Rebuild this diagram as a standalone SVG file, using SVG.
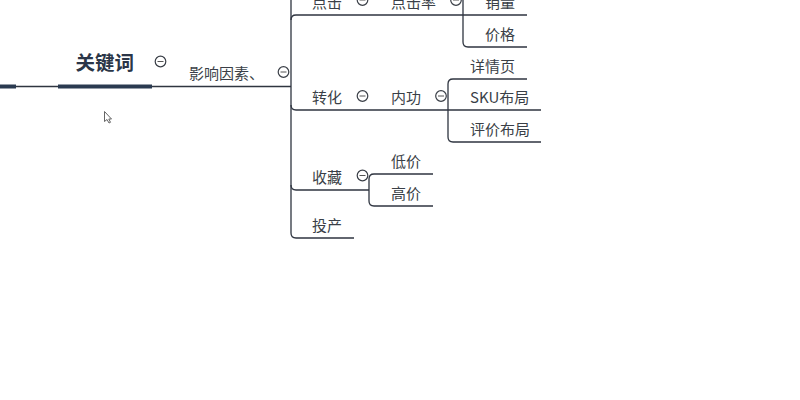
<svg xmlns="http://www.w3.org/2000/svg" width="800" height="400" viewBox="0 0 800 400">
<style>
text{font-family:"Noto Sans CJK SC","Noto Sans",sans-serif;font-size:15px;fill:#3a3f47}
.c{fill:none;stroke:#2f3540;stroke-width:1.3}
.t{fill:none;stroke:#2a3a50;stroke-width:4}
.b circle{fill:#fff;stroke:#3a3f47;stroke-width:1.2}
.b path{fill:none;stroke:#555;stroke-width:1}
</style>
<rect width="800" height="400" fill="#fff"/>
<g id="connectors">
<path class="c" d="M0 86.500H291"/>
<path class="t" d="M0 86.500H16M58 86.500H152"/>
<path class="c" d="M291 0V233Q291 238 296 238H354"/>
<path class="c" d="M291 20Q291 15 296 15H527"/>
<path class="c" d="M291 105Q291 110 296 110H541"/>
<path class="c" d="M291 185Q291 190 296 190H369"/>
<path class="c" d="M463 0V42Q463 47 468 47H527"/>
<path class="c" d="M527 79H453Q448 79 448 84V137Q448 142 453 142H541"/>
<path class="c" d="M433 174H374Q369 174 369 179V201Q369 206 374 206H433"/>
</g>
<g id="n-keyword"><text x="75.500" y="69.500" style="font-size:19.500px;font-weight:700;fill:#2b3648">关键词</text></g>
<g id="n-factors"><text x="189" y="79">影响因素、</text></g>
<g id="n-click"><text x="312" y="8">点击</text></g>
<g id="n-ctr"><text x="391" y="8">点击率</text></g>
<g id="n-sales"><text x="485" y="8">销量</text></g>
<g id="n-price"><text x="485" y="39.500">价格</text></g>
<g id="n-detail"><text x="470" y="71.500">详情页</text></g>
<g id="n-sku"><text x="470" y="103">SKU布局</text></g>
<g id="n-review"><text x="470" y="135">评价布局</text></g>
<g id="n-convert"><text x="312" y="103">转化</text></g>
<g id="n-inner"><text x="391" y="103">内功</text></g>
<g id="n-fav"><text x="312" y="183">收藏</text></g>
<g id="n-low"><text x="391" y="167">低价</text></g>
<g id="n-high"><text x="391" y="199">高价</text></g>
<g id="n-invest"><text x="312" y="231">投产</text></g>
<g id="toggles" class="b">
<g id="t1"><circle cx="160.500" cy="61.500" r="5.300"/><path d="M157.500 61.500h6"/></g>
<g id="t2"><circle cx="283.500" cy="72" r="5.300"/><path d="M280.500 72h6"/></g>
<g id="t3"><circle cx="362.500" cy="0" r="5.300"/><path d="M359.500 0h6"/></g>
<g id="t4"><circle cx="456" cy="0" r="5.300"/><path d="M453 0h6"/></g>
<g id="t5"><circle cx="362.500" cy="96" r="5.300"/><path d="M359.500 96h6"/></g>
<g id="t6"><circle cx="441" cy="96" r="5.300"/><path d="M438 96h6"/></g>
<g id="t7"><circle cx="362.500" cy="175.500" r="5.300"/><path d="M359.500 175.500h6"/></g>
</g>
<path d="M104.500 111.500V121.500L107 119.500L109 123L110.500 122.300L108.800 119H111.500Z" fill="#fff" stroke="#555" stroke-width="0.900"/>
</svg>
